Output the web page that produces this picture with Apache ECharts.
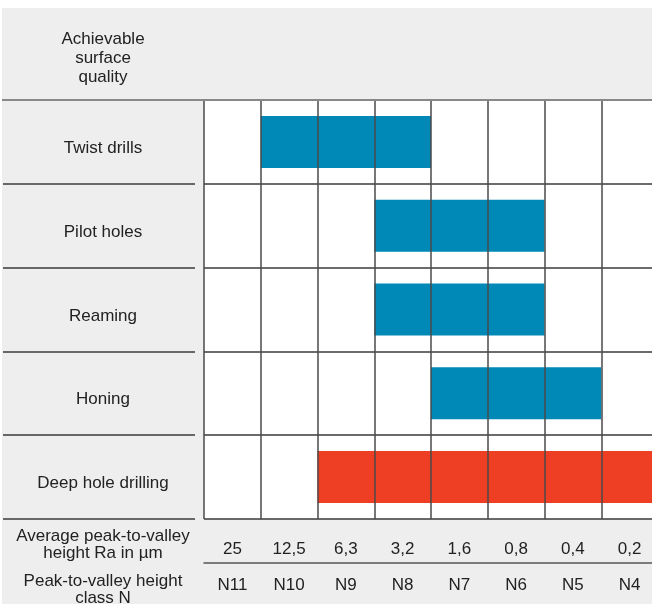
<!DOCTYPE html>
<html><head><meta charset="utf-8">
<script src="https://cdn.jsdelivr.net/npm/echarts@6/dist/echarts.min.js"></script>
<style>
html,body{margin:0;padding:0;background:#fff;width:652px;height:604px;overflow:hidden}
#c{position:absolute;left:2px;top:8px;width:650px;height:596px}
</style>
</head><body><div id="c"></div>
<script>
// ---- data ----
const processes = ['Twist drills', 'Pilot holes', 'Reaming', 'Honing', 'Deep hole drilling'];
const raValues = ['25', '12,5', '6,3', '3,2', '1,6', '0,8', '0,4', '0,2'];
const nClasses = ['N11', 'N10', 'N9', 'N8', 'N7', 'N6', 'N5', 'N4'];
// achievable Ra range per process (roughest .. finest)
const rangeFrom = ['12,5', '3,2', '3,2', '1,6', '6,3'];
const rangeTo   = ['3,2', '0,8', '0,8', '0,4', '0,2'];
const headerText = 'Achievable\nsurface\nquality';
const raTitle = 'Average peak-to-valley\nheight Ra in µm';
const nTitle = 'Peak-to-valley height\nclass N';

// ---- styles ----
const FONT = "'Liberation Sans', Arial, Helvetica, sans-serif";
const TXT = '#222';
const BLUE = '#0088b6';
const RED = '#ee3e23';
const highlightProcess = 'Deep hole drilling';

const offsets = processes.map((p, i) => raValues.indexOf(rangeFrom[i]));
const spans = processes.map((p, i) => raValues.indexOf(rangeTo[i]) - raValues.indexOf(rangeFrom[i]) + 1);

const chart = echarts.init(document.getElementById('c'), null, {renderer: 'canvas'});
const lineDark = {color: '#3a3a3a', width: 1.5};

chart.setOption({
  backgroundColor: '#eeeeee',
  animation: false,
  textStyle: {fontFamily: FONT},
  grid: [
    {left: 202, top: 92, width: 454, height: 419, show: true, backgroundColor: '#fff', borderWidth: 0, outerBoundsMode: 'none', containLabel: false},
    {left: 1, top: 92, width: 192, height: 419, show: false, outerBoundsMode: 'none', containLabel: false},
    {left: 202, top: 554, width: 454, height: 1, show: false, outerBoundsMode: 'none', containLabel: false}
  ],
  xAxis: [
    {gridIndex: 0, type: 'value', min: 0, max: raValues.length, interval: 1, position: 'top', z: 5,
     axisLine: {show: false}, axisTick: {show: false}, axisLabel: {show: false},
     splitLine: {show: true, showMinLine: true, showMaxLine: true, lineStyle: {color: '#4a4a4a', width: 1.5}}},
    {gridIndex: 0, type: 'category', data: raValues, position: 'bottom',
     axisLine: {show: false}, axisTick: {show: false}, splitLine: {show: false},
     axisLabel: {interval: 0, margin: 22, fontSize: 17, color: TXT, fontFamily: FONT}},
    {gridIndex: 2, type: 'category', data: nClasses, position: 'bottom',
     axisLine: {show: true, lineStyle: {color: '#555', width: 1.5}}, axisTick: {show: false}, splitLine: {show: false},
     axisLabel: {interval: 0, margin: 14, fontSize: 17, color: TXT, fontFamily: FONT}},
    {gridIndex: 1, type: 'value', min: 0, max: 1, show: false}
  ],
  yAxis: [
    {gridIndex: 0, type: 'category', data: processes, inverse: true,
     axisLine: {show: false}, axisTick: {show: false},
     splitLine: {show: true, lineStyle: lineDark},
     axisLabel: {interval: 0, margin: 101, align: 'center', color: TXT, fontFamily: FONT, fontSize: 17,
       formatter: '{a|{value}}',
       rich: {a: {fontSize: 17, color: TXT, fontFamily: FONT, padding: [13, 0, 0, 0]}}}},
    {gridIndex: 1, type: 'category', data: processes, inverse: true,
     axisLine: {show: false}, axisTick: {show: false}, axisLabel: {show: false},
     splitLine: {show: true, lineStyle: lineDark}},
    {gridIndex: 2, type: 'value', min: 0, max: 1, show: false}
  ],
  series: [
    {type: 'bar', xAxisIndex: 0, yAxisIndex: 0, stack: 'range', silent: true, barWidth: 52,
     itemStyle: {color: 'transparent'}, data: offsets},
    {type: 'bar', xAxisIndex: 0, yAxisIndex: 0, stack: 'range', silent: true, barWidth: 52,
     data: spans.map((v, i) => ({value: v, itemStyle: {color: processes[i] === highlightProcess ? RED : BLUE}}))}
  ],
  graphic: [
    {type: 'line', z: 100, shape: {x1: 0, y1: 92, x2: 650, y2: 92}, style: {stroke: '#888', lineWidth: 2}},
    {type: 'text', x: 101, y: 50, style: {text: headerText, fontSize: 17, lineHeight: 19, fontFamily: FONT, fill: TXT, align: 'center', verticalAlign: 'middle'}},
    {type: 'text', x: 101, y: 537, style: {text: raTitle, fontSize: 17, lineHeight: 17, fontFamily: FONT, fill: TXT, align: 'center', verticalAlign: 'middle'}},
    {type: 'text', x: 101, y: 582, style: {text: nTitle, fontSize: 17, lineHeight: 17, fontFamily: FONT, fill: TXT, align: 'center', verticalAlign: 'middle'}}
  ]
});
</script>
</body></html>
